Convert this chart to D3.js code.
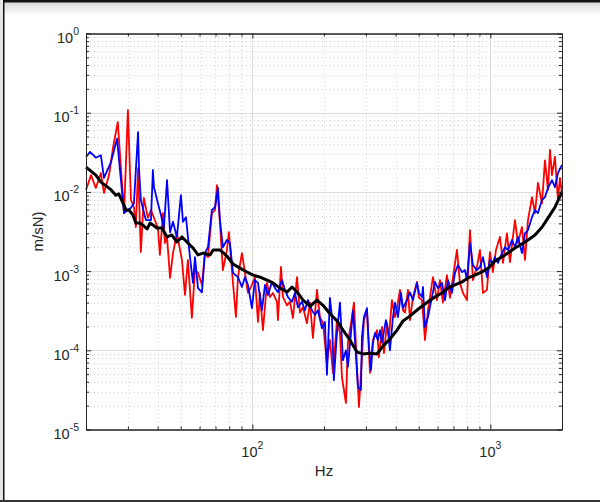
<!DOCTYPE html>
<html>
<head>
<meta charset="utf-8">
<script src="https://cdn.jsdelivr.net/npm/d3@7"></script>
<style>
  body { margin: 0; background: #fff; }
  svg { display: block; }
  text { font-family: "Liberation Sans", Arial, sans-serif; fill: #262626; }
</style>
</head>
<body>
<div class="canva"></div>
<script>
// frequency (Hz) and magnitude (m/sN)
const redHz = [20.0,21.0,22.0,23.1,23.8,25.0,26.0,27.2,28.9,30.0,30.9,31.8,32.4,33.1,34.0,35.0,36.4,37.5,40.1,40.9,
  42.1,42.9,43.8,45.1,46.4,48.2,50.6,52.1,53.6,55.7,57.4,59.1,61.4,63.2,65.1,67.6,69.7,71.0,73.1,75.2,
  78.2,79.7,82.9,85.3,87.0,90.4,93.1,95.8,99.6,102.5,105.6,107.6,110.8,115.2,118.6,122,126.9,128.1,131.9,134.5,
  139.8,143.9,148.1,154,158.5,163.2,169.6,174.6,179.7,186.8,192.3,198.1,205.8,211.8,218.2,226.7,233.4,237.9,247.3,252.1,
  262.1,267.2,275.1,280.5,288.7,294.4,303.1,312,321.2,333.9,340.4,350.4,357.3,367.8,374.9,385.9,397.3,405.1,417.1,429.4,
  437.8,450.7,459.5,473,491.7,501.2,516.1,531.3,546.9,573.9,596.5,614.1,632.2,657.1,676.5,696.5,723.9,745.2,767.2,797.4,
  820.9,845.1,878.4,904.3,930.9,967.6,996,1025,1056,1097,1130,1174,1209,1233,1269,1306,1358,1398,1439,1496,
  1540,1585,1648,1696,1746,1780,1815,1868,1923,1961,2000];
const redVal = [1.06e-2,1.63e-2,1.12e-2,1.73e-2,9.7e-3,1.63e-2,3.69e-2,7.6e-2,5.4e-3,1.08e-1,7.9e-3,6.4e-3,3.6e-3,2.0e-2,1.74e-3,8.4e-3,4.7e-3,5.9e-3,3.5e-3,1.6e-3,
  5.4e-3,2.26e-3,2.7e-3,8.2e-4,1.69e-3,3.0e-3,1.38e-3,5.0e-4,1.38e-3,2.56e-4,1.03e-3,9.5e-4,6.7e-4,1.69e-3,1.5e-3,5.4e-3,5.9e-3,1.22e-2,4.05e-3,1.03e-3,
  1.85e-3,3.1e-3,7.1e-4,2.63e-4,8.4e-4,1.69e-3,9.5e-4,5.3e-4,6.7e-4,8.4e-4,2.28e-4,5.3e-4,1.8e-4,7.1e-4,4.7e-4,5.3e-4,4.1e-4,2.4e-4,1.13e-3,4.7e-4,
  3.7e-4,4.1e-4,2.56e-4,8.4e-4,3.0e-4,3.5e-4,2.2e-4,4.0e-4,1.43e-4,5.8e-4,2.63e-4,2.2e-4,6.9e-5,1.35e-4,5.2e-5,2.4e-4,1.65e-4,4.6e-5,2.16e-5,1.24e-4,
  2.63e-4,4.0e-4,6.2e-5,1.92e-5,8.2e-5,2.4e-4,3.2e-4,5.2e-5,1.35e-4,1.8e-4,8.2e-5,1.97e-4,9.2e-5,2.2e-4,1.47e-4,4.3e-4,2.63e-4,3.4e-4,5.8e-4,3.2e-4,
  3.0e-4,5.8e-4,2.4e-4,4.7e-4,7.3e-4,4.6e-4,4.3e-4,1.35e-4,3.2e-4,8.4e-4,4.3e-4,7.7e-4,4.0e-4,8.9e-4,4.6e-4,8.4e-4,1.85e-3,7.1e-4,5.3e-4,4.3e-4,
  3.3e-3,7.7e-4,1.13e-3,1.85e-3,5.3e-4,5.8e-4,1.74e-3,9.7e-4,1.85e-3,2.7e-3,1.27e-3,3.0e-3,1.3e-3,2.14e-3,4.4e-3,2.26e-3,3.6e-3,1.38e-3,4.4e-3,8.6e-3,
  5.4e-3,1.3e-2,7.2e-3,2.5e-2,1.06e-2,3.4e-2,1.63e-2,2.76e-2,7.9e-3,1.5e-2,9.5e-3];

const blueHz = [20.0,20.8,22.0,23.1,23.8,25.5,27.0,28.9,30.9,31.8,33.1,33.4,34.0,35.7,37.5,38.2,38.6,40.1,41.3,42.5,
  43.8,45.1,46.4,48.2,50.1,51.1,52.6,54.7,56.3,57.4,59.1,61.4,63.2,65.1,67.6,69.7,71.7,73.1,75.2,78.2,
  80.5,82.9,87.0,90.4,93.1,95.8,99.6,102.5,105.6,109.7,113,116.3,120.9,124.5,128.1,133.2,137.1,141.1,146.7,151,
  155.4,161.6,166.3,171.2,178,183.2,188.6,196.1,201.8,205.8,211.8,216,220,226.7,233.4,240.3,247.3,252.1,259.6,264.7,
  269.8,277.8,286,288.7,294.4,303.1,309,315,321.2,327.4,337.1,343.7,350.4,364.1,371.2,378.5,389.8,397.3,409.1,421.1,
  429.4,446.3,459.5,473,491.7,501.2,516.1,521,531.3,546.9,568.4,585.1,602.4,626.2,644.7,663.6,689.7,710,731,760,
  782,797.4,820.9,845.1,878.4,904.3,930.9,967.6,996,1025,1045,1076,1119,1152,1186,1233,1269,1306,1358,1398,
  1439,1496,1540,1585,1648,1696,1746,1815,1868,1923,2000];
const blueVal = [2.76e-2,3.2e-2,2.7e-2,2.9e-2,1.5e-2,2.4e-2,4.7e-2,5.4e-3,6.3e-3,7.2e-3,5.7e-2,2.0e-2,7.9e-3,4.4e-3,4.4e-3,1.89e-2,1.15e-2,7.2e-3,5.1e-3,3.5e-3,
  1.41e-2,3.1e-3,4.2e-3,2.7e-3,9.1e-3,4.2e-3,4.8e-3,1.5e-3,7.1e-4,1.5e-3,6.1e-4,5.4e-4,1.69e-3,2.0e-3,5.9e-3,6.4e-3,1.12e-2,4.4e-3,2.0e-3,2.47e-3,
  2.26e-3,9.5e-4,8.4e-4,6.3e-4,8.4e-4,6.7e-4,3.4e-4,7.7e-4,7.1e-4,3.2e-4,6.7e-4,5.0e-4,7.3e-4,6.1e-4,5.4e-4,7.7e-4,5.8e-4,4.7e-4,4.1e-4,5.3e-4,
  3.5e-4,4.1e-4,3.2e-4,4.3e-4,3.2e-4,2.8e-4,3.2e-4,1.9e-4,2.28e-4,4.9e-5,4.6e-4,2.63e-4,4.2e-5,1.65e-4,4.0e-4,7.5e-5,1.0e-4,6.2e-5,1.65e-4,3.2e-4,
  1.35e-4,3.4e-5,3.15e-5,1.47e-4,2.63e-4,3.4e-4,1.1e-4,5.6e-5,1.24e-4,1.65e-4,1.35e-4,1.8e-4,1.24e-4,2.4e-4,1.8e-4,1.0e-4,2.63e-4,4.0e-4,2.63e-4,5.3e-4,
  3.4e-4,4.3e-4,5.4e-4,4.3e-4,7.1e-4,5.3e-4,4.7e-4,6.3e-4,1.97e-4,2.63e-4,4.7e-4,7.3e-4,6.1e-4,7.1e-4,4.3e-4,7.7e-4,5.3e-4,9.5e-4,1.19e-3,9.7e-4,
  1.03e-3,7.7e-4,2.26e-3,1.19e-3,1.03e-3,1.13e-3,1.5e-3,8.4e-4,1.38e-3,1.27e-3,1.5e-3,1.27e-3,1.69e-3,2.0e-3,1.85e-3,2.47e-3,2.0e-3,2.7e-3,1.69e-3,3.0e-3,
  3.3e-3,4.8e-3,5.9e-3,5.4e-3,7.9e-3,8.6e-3,1.12e-2,1.41e-2,1.15e-2,1.73e-2,2.2e-2];

const blackHz = [20.0,22.0,23.1,24.3,25.5,26.7,27.5,29.5,30.3,31.5,32.4,33.7,34.7,36.1,37.2,38.3,39.7,41.7,43.8,45.9,
  48.2,50.6,53.1,56.3,59.1,62.1,66.4,68.4,73.1,78.2,82.9,88.7,94.9,100.6,107.7,115.3,122.1,130.7,140,146.8,
  154,163.3,174.6,187,198.2,211.9,226.9,240.4,257,275.4,291.7,312,334,354,378.4,405.5,429.5,459,496.6,547,
  585,626,664,710,760,805,861,922,985,1045,1153,1270,1400,1541,1650,1748,1871,2000];
const blackVal = [2.06e-2,1.63e-2,1.33e-2,1.19e-2,1.06e-2,9.1e-3,9.4e-3,5.9e-3,5.9e-3,5.1e-3,4.05e-3,4.05e-3,3.8e-3,3.4e-3,4.05e-3,3.8e-3,3.5e-3,3.5e-3,2.7e-3,2.86e-3,
  2.33e-3,2.7e-3,2.33e-3,1.96e-3,1.6e-3,1.69e-3,1.6e-3,1.85e-3,1.85e-3,1.55e-3,1.23e-3,1.09e-3,9.75e-4,8.9e-4,8.4e-4,7.7e-4,7.1e-4,6.1e-4,5.45e-4,6.3e-4,
  5.45e-4,4.3e-4,3.6e-4,4.3e-4,3.7e-4,2.9e-4,2.35e-4,1.8e-4,1.35e-4,9.5e-5,9.0e-5,9.2e-5,9.0e-5,1.13e-4,1.39e-4,1.8e-4,2.35e-4,2.7e-4,3.3e-4,4.1e-4,
  4.7e-4,5.3e-4,6.1e-4,6.7e-4,7.3e-4,8.2e-4,8.9e-4,9.75e-4,1.1e-3,1.34e-3,1.6e-3,1.96e-3,2.33e-3,2.86e-3,3.6e-3,4.7e-3,6.45e-3,1.0e-2];

const xMajor = [100, 1000];
const yMajor = [1e-5, 1e-4, 1e-3, 1e-2, 1e-1, 1];

const W = 600, H = 502;
const svg = d3.select('.canva').append('svg')
  .attr('width', W)
  .attr('height', H);

// window frame
svg.append('rect').attr('x', 0).attr('y', 0).attr('width', W).attr('height', H).attr('fill', '#fff');
const grad = svg.append('defs').append('linearGradient')
  .attr('id', 'topfade').attr('x1', 0).attr('y1', 0).attr('x2', 0).attr('y2', 1);
grad.append('stop').attr('offset', '0%').attr('stop-color', '#d8d8d8');
grad.append('stop').attr('offset', '100%').attr('stop-color', '#ffffff');
svg.append('rect').attr('x', 0).attr('y', 2).attr('width', W).attr('height', 14).attr('fill', 'url(#topfade)');
svg.append('rect').attr('x', 0).attr('y', 0).attr('width', W).attr('height', 2.5).attr('fill', '#111');
svg.append('rect').attr('x', 0).attr('y', 0).attr('width', 3).attr('height', H).attr('fill', '#e6e6e6');
svg.append('rect').attr('x', 3).attr('y', 0).attr('width', 1.5).attr('height', H).attr('fill', '#111');
svg.append('rect').attr('x', 0).attr('y', 500).attr('width', W).attr('height', 2).attr('fill', '#333');

const x = d3.scaleLog().domain([20, 2000]).range([86, 562]);
const y = d3.scaleLog().domain([1e-5, 1]).range([429.5, 33.5]);

const xMinor = [];
[10, 100, 1000].forEach(d => d3.range(2, 10).forEach(k => { const v = k * d; if (v >= 20 && v <= 2000) xMinor.push(v); }));
const yMinor = [];
[1e-5, 1e-4, 1e-3, 1e-2, 1e-1].forEach(d => d3.range(2, 10).forEach(k => yMinor.push(k * d)));

const grid = svg.append('g');
grid.selectAll('.gx').data(xMinor).enter().append('line')
  .attr('x1', d => Math.round(x(d)) + 0.5).attr('x2', d => Math.round(x(d)) + 0.5)
  .attr('y1', y(1)).attr('y2', y(1e-5))
  .attr('stroke', '#cfcfcf').attr('stroke-dasharray', '1,3');
grid.selectAll('.gy').data(yMinor).enter().append('line')
  .attr('y1', d => Math.round(y(d)) + 0.5).attr('y2', d => Math.round(y(d)) + 0.5)
  .attr('x1', x(20)).attr('x2', x(2000))
  .attr('stroke', '#cfcfcf').attr('stroke-dasharray', '1,3');
grid.selectAll('.mx').data(xMajor).enter().append('line')
  .attr('x1', d => Math.round(x(d)) + 0.5).attr('x2', d => Math.round(x(d)) + 0.5)
  .attr('y1', y(1)).attr('y2', y(1e-5))
  .attr('stroke', '#dcdcdc');
grid.selectAll('.my').data(yMajor).enter().append('line')
  .attr('y1', d => Math.round(y(d)) + 0.5).attr('y2', d => Math.round(y(d)) + 0.5)
  .attr('x1', x(20)).attr('x2', x(2000))
  .attr('stroke', '#dcdcdc');

// data lines
const line = d3.line().x(d => x(d[0])).y(d => y(d[1]));
const plot = svg.append('g');
plot.append('path').datum(d3.zip(redHz, redVal))
  .attr('d', line).attr('fill', 'none').attr('stroke', '#ff0000').attr('stroke-width', 1.8).attr('stroke-linejoin', 'round');
plot.append('path').datum(d3.zip(blueHz, blueVal))
  .attr('d', line).attr('fill', 'none').attr('stroke', '#0000ff').attr('stroke-width', 1.8).attr('stroke-linejoin', 'round');
plot.append('path').datum(d3.zip(blackHz, blackVal))
  .attr('d', line).attr('fill', 'none').attr('stroke', '#000').attr('stroke-width', 3).attr('stroke-linejoin', 'round');

// axes box with inward ticks
const axColor = '#262626';
function styleAxis(g) {
  g.select('.domain').attr('stroke', axColor);
  g.selectAll('.tick line').attr('stroke', axColor);
  g.selectAll('.tick text').remove();
}
svg.append('g').attr('transform', `translate(0,${y(1e-5)})`)
  .call(d3.axisBottom(x).tickValues(xMajor).tickSize(-5).tickSizeOuter(0)).call(styleAxis);
svg.append('g').attr('transform', `translate(0,${y(1e-5)})`)
  .call(d3.axisBottom(x).tickValues(xMinor).tickSize(-3).tickSizeOuter(0)).call(styleAxis);
svg.append('g').attr('transform', `translate(0,${y(1)})`)
  .call(d3.axisTop(x).tickValues(xMajor).tickSize(-5).tickSizeOuter(0)).call(styleAxis);
svg.append('g').attr('transform', `translate(0,${y(1)})`)
  .call(d3.axisTop(x).tickValues(xMinor).tickSize(-3).tickSizeOuter(0)).call(styleAxis);
svg.append('g').attr('transform', `translate(${x(20)},0)`)
  .call(d3.axisLeft(y).tickValues(yMajor).tickSize(-5).tickSizeOuter(0)).call(styleAxis);
svg.append('g').attr('transform', `translate(${x(20)},0)`)
  .call(d3.axisLeft(y).tickValues(yMinor).tickSize(-3).tickSizeOuter(0)).call(styleAxis);
svg.append('g').attr('transform', `translate(${x(2000)},0)`)
  .call(d3.axisRight(y).tickValues(yMajor).tickSize(-5).tickSizeOuter(0)).call(styleAxis);
svg.append('g').attr('transform', `translate(${x(2000)},0)`)
  .call(d3.axisRight(y).tickValues(yMinor).tickSize(-3).tickSizeOuter(0)).call(styleAxis);

// tick labels 10^n
svg.selectAll('.ylab').data(yMajor).enter().append('text')
  .attr('x', x(20) - 7).attr('y', d => y(d) + 9.5)
  .attr('text-anchor', 'end').attr('font-size', 14.5)
  .each(function (d) {
    const t = d3.select(this);
    const e = Math.round(Math.log10(d));
    t.append('tspan').text('10');
    t.append('tspan').attr('dy', -8).attr('font-size', 10.5).text(e);
  });
svg.selectAll('.xlab').data(xMajor).enter().append('text')
  .attr('x', d => x(d)).attr('y', y(1e-5) + 27.5)
  .attr('text-anchor', 'middle').attr('font-size', 14.5)
  .each(function (d) {
    const t = d3.select(this);
    const e = Math.round(Math.log10(d));
    t.append('tspan').text('10');
    t.append('tspan').attr('dy', -8).attr('font-size', 10.5).text(e);
  });

// axis titles
svg.append('text').attr('x', (x(20) + x(2000)) / 2).attr('y', 476)
  .attr('text-anchor', 'middle').attr('font-size', 15).text('Hz');
svg.append('text')
  .attr('transform', `translate(43,${(y(1) + y(1e-5)) / 2}) rotate(-90)`)
  .attr('text-anchor', 'middle').attr('font-size', 15).text('m/sN)');
</script>
</body>
</html>
